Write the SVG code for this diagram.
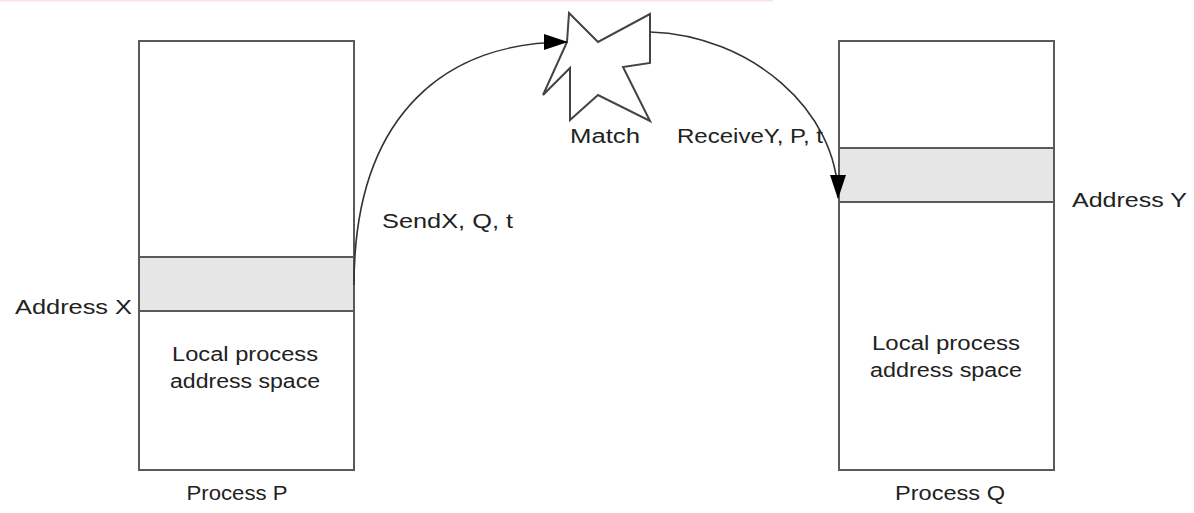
<svg xmlns="http://www.w3.org/2000/svg" width="1194" height="513" viewBox="0 0 1194 513">
  <style>
    .box { fill: #ffffff; stroke: #5a5a5a; stroke-width: 2; }
    .band { fill: #e6e6e6; stroke: #5a5a5a; stroke-width: 2; }
    .star { fill: #ffffff; stroke: #444444; stroke-width: 2; stroke-linejoin: miter; }
    .conn { fill: none; stroke: #333333; stroke-width: 1.6; }
    text { font-family: "Liberation Sans", "DejaVu Sans", sans-serif; font-size: 20px; fill: #222222; }
  </style>
  <defs>
    <marker id="arrow" markerUnits="userSpaceOnUse" markerWidth="24" markerHeight="16" viewBox="0 0 24 16" refX="23" refY="8" orient="auto">
      <path d="M0,0 L24,8 L0,16 z" fill="#000000"/>
    </marker>
  </defs>
  <rect width="1194" height="513" fill="#ffffff"/>
  <line x1="0" y1="0.5" x2="773" y2="0.5" stroke="#fbe3e3" stroke-width="2"/>

  <g id="processP">
    <rect class="box" x="139" y="41" width="215" height="429"/>
    <rect class="band" x="139" y="257" width="215" height="54"/>
    <text x="245" y="361" text-anchor="middle" textLength="146" lengthAdjust="spacingAndGlyphs">Local process</text>
    <text x="245" y="388" text-anchor="middle" textLength="150" lengthAdjust="spacingAndGlyphs">address space</text>
    <text x="237" y="500" text-anchor="middle" textLength="101" lengthAdjust="spacingAndGlyphs">Process P</text>
    <text x="15" y="314" textLength="117" lengthAdjust="spacingAndGlyphs">Address X</text>
  </g>

  <g id="processQ">
    <rect class="box" x="839" y="41" width="215" height="429"/>
    <rect class="band" x="839" y="148" width="215" height="54"/>
    <text x="946" y="350" text-anchor="middle" textLength="148" lengthAdjust="spacingAndGlyphs">Local process</text>
    <text x="946" y="377" text-anchor="middle" textLength="152" lengthAdjust="spacingAndGlyphs">address space</text>
    <text x="950" y="500" text-anchor="middle" textLength="110" lengthAdjust="spacingAndGlyphs">Process Q</text>
    <text x="1072" y="207" textLength="115" lengthAdjust="spacingAndGlyphs">Address Y</text>
  </g>

  <g id="match">
    <polygon class="star" points="569,13 598,42 650,14 650,63 623,67 650,121 598,95 570,120 570,68 543,95 567,42"/>
    <text x="570" y="143" textLength="70" lengthAdjust="spacingAndGlyphs">Match</text>
  </g>

  <g id="connectors">
    <path class="conn" d="M354,285 C354,110 450,42 567,42" marker-end="url(#arrow)"/>
    <path class="conn" d="M650,32 C750,35 838,110 838,198" marker-end="url(#arrow)"/>
    <text x="382" y="228" textLength="131" lengthAdjust="spacingAndGlyphs">SendX, Q, t</text>
    <text x="677" y="143" textLength="146" lengthAdjust="spacingAndGlyphs">ReceiveY, P, t</text>
  </g>
</svg>
